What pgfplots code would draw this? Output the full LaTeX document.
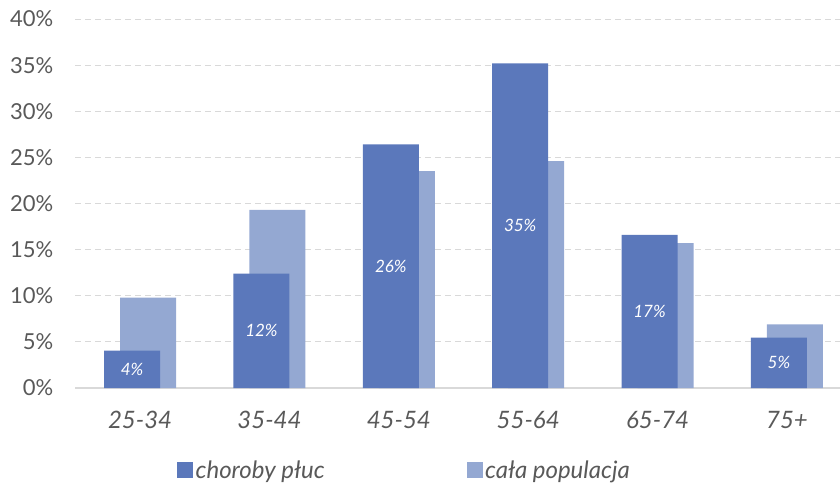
\documentclass[border=0pt]{standalone}
\usepackage{fontspec}
\setmainfont{Lato}
\usepackage{pgfplots}
\pgfplotsset{compat=1.18}

\definecolor{darkbar}{HTML}{5B78BB}
\definecolor{lightbar}{HTML}{94A8D2}
\definecolor{txt}{HTML}{595959}
\definecolor{gridc}{HTML}{D9D9D9}

\begin{document}
\begin{tikzpicture}
  \path[use as bounding box] (0pt,0pt) rectangle (840pt,482pt);
  \begin{axis}[
    at={(75.4pt,94pt)}, anchor=south west,
    scale only axis,
    width=764.6pt, height=369pt,
    xmin=-0.5, xmax=5.41,
    ymin=0, ymax=40,
    ytick={0,5,...,40},
    xtick={0,...,5},
    xticklabels={25-34,35-44,45-54,55-64,65-74,75+},
    /pgf/number format/assume math mode=true,
    yticklabel={\pgfmathprintnumber{\tick}\%},
    yticklabel style={font=\fontsize{22}{26}\selectfont, text=txt,
      anchor=east, inner sep=0pt, xshift=-22pt},
    xticklabel style={font=\fontsize{24}{28}\selectfont\itshape, text=txt,
      anchor=north, inner sep=0pt, yshift=-23pt},
    major tick length=0pt,
    axis line style={draw=none},
    ymajorgrids,
    grid style={gridc, dashed, line width=1pt, dash pattern=on 6pt off 4pt},
    clip=false,
    legend columns=2,
    legend style={draw=none, fill=none, inner sep=0pt,
      at={(axis description cs:0.1329,-0.222)}, anchor=west,
      font=\fontsize{24}{28}\selectfont\itshape, text=txt,
      nodes={inner xsep=3pt, inner ysep=0pt},
      /tikz/every even column/.append style={column sep=139pt}},
    legend image code/.code={\fill[#1] (0pt,-7.5pt) rectangle (15pt,7.5pt);},
  ]
    % bottom axis line
    \draw[gridc, line width=1.2pt] (axis cs:-0.5,0) -- (axis cs:5.41,0);

    \addlegendimage{darkbar}
    \addlegendentry{choroby płuc}
    \addlegendimage{lightbar}
    \addlegendentry{cała populacja}

    % cała populacja
    \addplot[ybar, bar width=0.433, bar shift=0.062, fill=lightbar, draw=none, forget plot]
      coordinates {(0,9.8) (1,19.3) (2,23.5) (3,24.6) (4,15.7) (5,6.9)};

    % choroby płuc
    \addplot[ybar, bar width=0.433, bar shift=-0.062, fill=darkbar, draw=none, forget plot,
      visualization depends on={y \as \rawy},
      nodes near coords={\pgfmathprintnumber[fixed,precision=0]{\pgfplotspointmeta}\%},
      every node near coord/.append style={anchor=center, text=white,
        font=\fontsize{17}{20}\selectfont\itshape,
        shift={(axis direction cs:-0.062,-\rawy/2)}},
    ]
      coordinates {(0,4.05) (1,12.4) (2,26.4) (3,35.2) (4,16.6) (5,5.46)};
  \end{axis}
\end{tikzpicture}
\end{document}
